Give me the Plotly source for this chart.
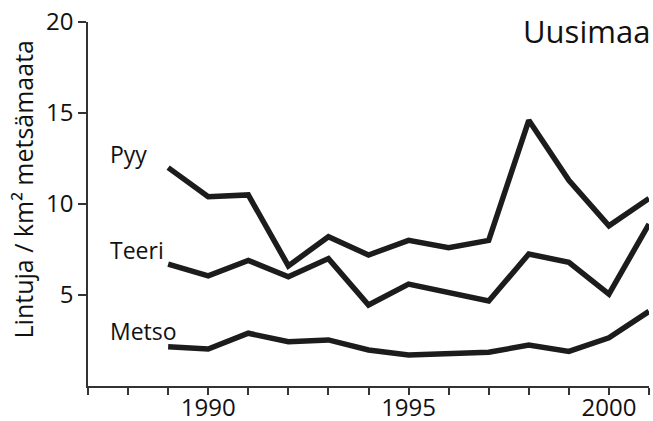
import plotly.graph_objects as go

years = list(range(1989, 2002))
pyy = [12.0, 10.4, 10.5, 6.6, 8.2, 7.2, 8.0, 7.6, 8.0, 14.6, 11.3, 8.8, 10.3]
teeri = [6.7, 6.05, 6.9, 6.0, 7.0, 4.45, 5.6, 5.1, 4.67, 7.25, 6.8, 5.05, 8.9]
metso = [2.15, 2.03, 2.9, 2.43, 2.53, 1.98, 1.7, 1.8, 1.85, 2.25, 1.9, 2.65, 4.1]
series_names = ["Pyy", "Teeri", "Metso"]
label_y = [12.75, 7.47, 3.02]
x_ticks = [1990, 1995, 2000]
y_ticks = [5, 10, 15, 20]
region = "Uusimaa"
y_title = "Lintuja / km² metsämaata"

FONT = "Open Sans"
INK = "#1c1c1c"

fig = go.Figure()
for vals in (pyy, teeri, metso):
    fig.add_trace(go.Scatter(x=years, y=vals, mode="lines",
                             line=dict(color=INK, width=5.5),
                             showlegend=False, hoverinfo="skip"))

for name, ly in zip(series_names, label_y):
    fig.add_annotation(x=1987.5, y=ly, xref="x", yref="y", text=name,
                       showarrow=False, xanchor="left", yanchor="middle",
                       font=dict(family=FONT, size=23, color="#111"))

fig.add_annotation(x=1, y=0.974, xref="paper", yref="paper", text=region,
                   showarrow=False, xanchor="right", yanchor="middle",
                   xshift=3, font=dict(family=FONT, size=31, color="#111"))

fig.add_annotation(x=0, y=0.54, xref="paper", yref="paper", text=y_title,
                   showarrow=False, textangle=-90, xanchor="center", yanchor="middle",
                   xshift=-65, font=dict(family=FONT, size=25, color="#111"))

fig.update_layout(
    width=653, height=421,
    margin=dict(l=88, r=4, t=22, b=35, autoexpand=False),
    paper_bgcolor="white", plot_bgcolor="white",
    font=dict(family=FONT, color="#111"),
    xaxis=dict(range=[1987, 2001], tickvals=x_ticks, ticks="outside", ticklen=7,
               tickwidth=1.5, tickcolor="#333", showline=True, linecolor="#333",
               linewidth=1.5, showgrid=False, zeroline=False, automargin=False,
               ticklabelstandoff=-8,
               tickfont=dict(family=FONT, size=24, color="#111"),
               minor=dict(dtick=1, tick0=1987, ticks="outside", ticklen=7,
                          tickwidth=1.5, tickcolor="#333", showgrid=False)),
    yaxis=dict(range=[0, 20], tickvals=y_ticks, ticks="outside", ticklen=8,
               tickwidth=1.5, tickcolor="#333", showline=True, linecolor="#333",
               linewidth=1.5, showgrid=False, zeroline=False, automargin=False,
               tickfont=dict(family=FONT, size=24, color="#111")),
)

fig.write_html("out.html", config={"displayModeBar": False},
               post_script="document.body.style.margin='0';")
